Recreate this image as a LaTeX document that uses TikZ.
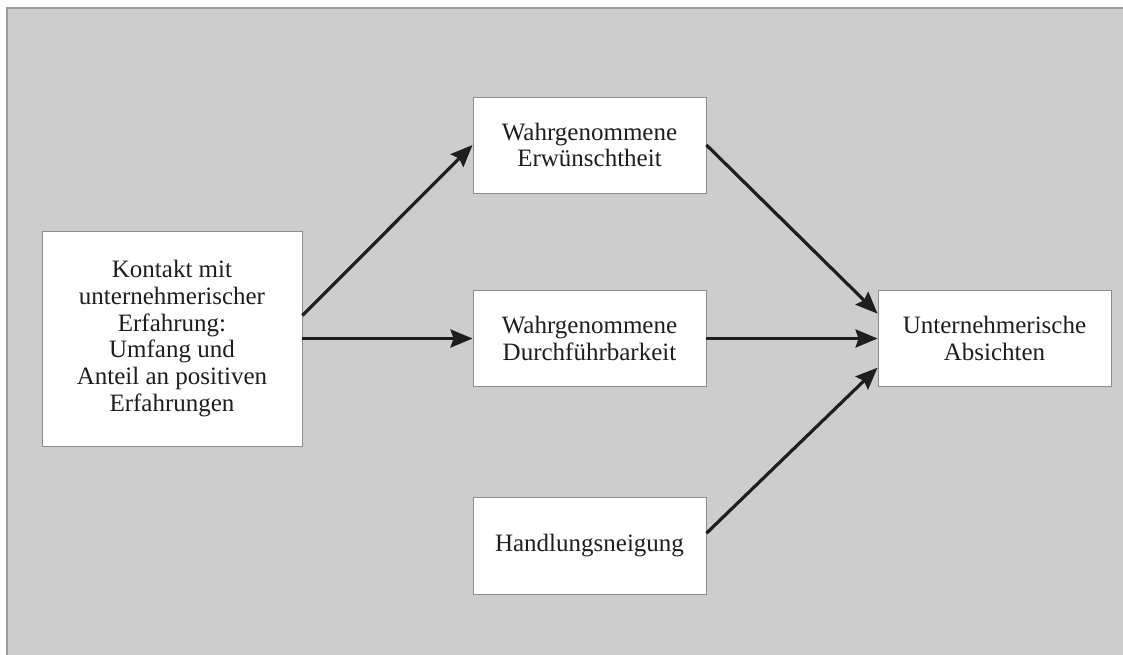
\documentclass[tikz,border=0pt]{standalone}
\usepackage{fontspec}
\setmainfont{Liberation Serif}
\usetikzlibrary{arrows.meta, positioning}
\definecolor{panelgray}{RGB}{205,205,205}
\definecolor{rimgray}{RGB}{155,155,155}
\definecolor{boxrim}{RGB}{140,140,140}
\definecolor{inkgray}{RGB}{30,30,30}

\begin{document}
\begin{tikzpicture}[x=1pt, y=-1pt,
  factor/.style={draw=boxrim, fill=white, line width=0.9pt, align=center, inner sep=0pt,
    minimum width=233pt, minimum height=96pt, text=inkgray,
    font=\fontsize{25}{26.7}\selectfont},
  link/.style={draw=inkgray, line width=3.2pt, -{Stealth[length=22pt, width=18pt, inset=3pt]}}]
  \useasboundingbox (0,0) rectangle (1123,654);
  % background panel
  \fill[panelgray] (7,8) rectangle (1126,658);
  \draw[rimgray, line width=1.5pt] (7,658) -- (7,8) -- (1126,8);

  \node[factor, minimum width=260pt, minimum height=215pt] (kontakt) at (172,338.5)
    {Kontakt mit\\unternehmerischer\\Erfahrung:\\Umfang und\\Anteil an positiven\\Erfahrungen};
  \node[factor] (erwuensch) at (589.5,145) {Wahrgenommene\\Erwünschtheit};
  \node[factor] (durchf) at (589.5,338.5) {Wahrgenommene\\Durchführbarkeit};
  \node[factor, minimum height=97pt] (neigung) at (589.5,545.5) {Handlungsneigung};
  \node[factor] (absicht) at (994.5,338.5) {Unternehmerische\\Absichten};

  \draw[link] (kontakt.10) -- (erwuensch.west);
  \draw[link] (kontakt.east) -- (durchf.west);
  \draw[link] (erwuensch.east) -- (absicht.168);
  \draw[link] (durchf.east) -- (absicht.west);
  \draw[link] (neigung.6) -- (absicht.194);
\end{tikzpicture}
\end{document}
